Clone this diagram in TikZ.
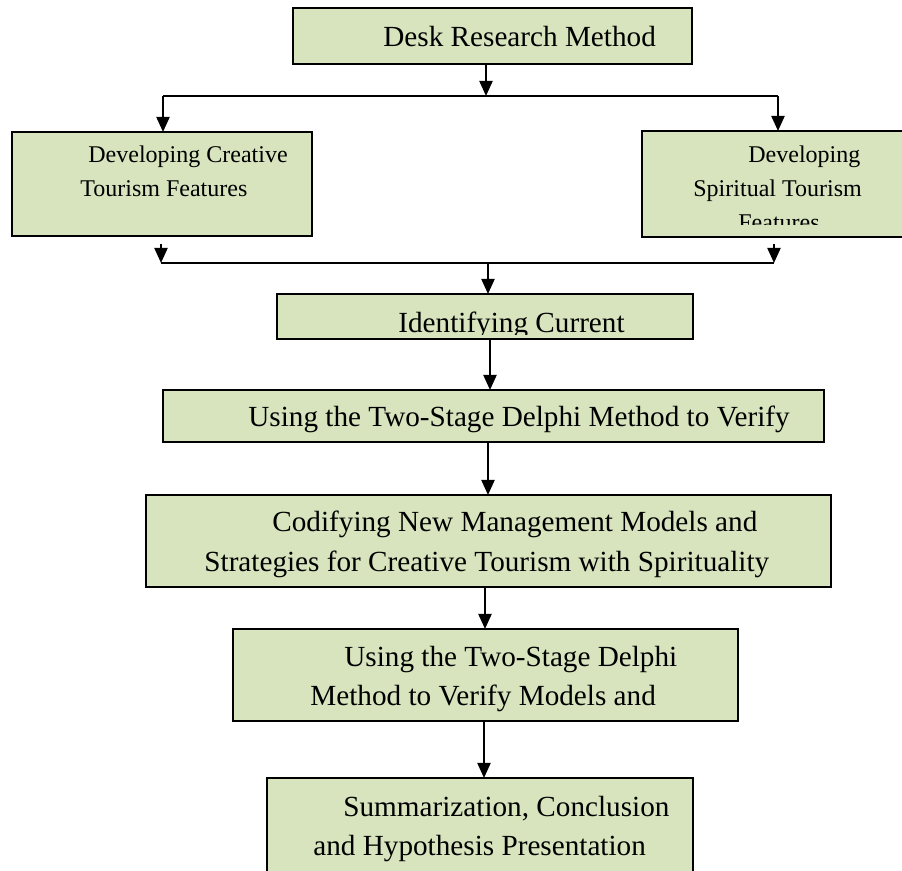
\documentclass[tikz,border=0pt]{standalone}
\usepackage{fontspec}
\setmainfont{Liberation Serif}
\usepackage{tikz}
\usetikzlibrary{arrows.meta}
\definecolor{boxfill}{HTML}{D7E4BD}
\newcommand{\bigtxt}{\fontsize{14.6}{18}\selectfont}
\newcommand{\smalltxt}{\fontsize{12}{15}\selectfont}

\begin{document}
\begin{tikzpicture}[
  x=0.5pt, y=-0.5pt,
  dep/.style={
    -{Triangle[width=6.5pt,length=7.5pt]},line width=1pt
  },
  bar/.style={
    line width=1pt
  },
  stepbox/.style 2 args={
    rectangle,
    draw=black,
    line width=1pt,
    fill=boxfill,
    inner sep=0pt,
    outer sep=0pt,
    minimum width=#1*0.5pt,
    minimum height=#2*0.5pt},
  lbl/.style={
    anchor=base west,
    inner sep=0pt,
    font=\bigtxt},
  slbl/.style={
    anchor=base west,
    inner sep=0pt,
    font=\smalltxt},
]

  \clip (0,0) rectangle (902,871);
  \useasboundingbox (0,0) rectangle (902,871);

  % Boxes
  \node[stepbox={399}{56}] (desk) at (492.5,36) {};
  \node[stepbox={300}{104}] (crt_feat) at (162,184) {};
  \node[stepbox={264}{106}] (spr_feat) at (774,184) {};
  \node[stepbox={416}{45}] (identify) at (485,316.5) {};
  \node[stepbox={661}{52}] (verify_one) at (493.5,416) {};
  \node[stepbox={685}{92}] (codify) at (488.5,541) {};
  \node[stepbox={505}{92}] (verify_two) at (485.5,675) {};
  \node[stepbox={426}{100}] (summary) at (480,828) {};

  % Labels
  \node[lbl] (desk_t) at (383,47) {Desk Research Method};

  \node[slbl] (crt_t1) at (88,163) {Developing Creative};
  \node[slbl] (crt_t2) at (80,197) {Tourism Features};

  \begin{scope}
    \clip (642,131) rectangle (902,225);
    \node[slbl] (spr_t1) at (748,163) {Developing};
    \node[slbl] (spr_t2) at (693,197) {Spiritual Tourism};
    \node[slbl] (spr_t3) at (738,231) {Features};
  \end{scope}

  \begin{scope}
    \clip (277,294) rectangle (693,334.5);
    \node[lbl] (identify_t) at (398,333) {Identifying Current};
  \end{scope}

  \node[lbl] (verify_one_t) at (248,427) 
      {Using the Two-Stage Delphi Method to Verify};

  \node[lbl] (codify_t1) at (272,532) {Codifying New Management Models and};
  \node[lbl] (codify_t2) at (204,572) 
      {Strategies for Creative Tourism with Spirituality};

  \node[lbl] (verify_two_t1) at (344,667) {Using the Two-Stage Delphi};
  \node[lbl] (verify_two_t2) at (310,706) {Method to Verify Models and};

  \node[lbl] (summary_t1) at (343,817) {Summarization, Conclusion};
  \node[lbl] (summary_t2) at (313,856) {and Hypothesis Presentation};

  % Split and join lines
  \coordinate (split_l) at (163,96);
  \coordinate (split_m) at (486,96);
  \coordinate (split_r) at (778,96);
  \coordinate (stub_l) at (161,244);
  \coordinate (stub_r) at (774,244);
  \coordinate (join_l) at (161,263);
  \coordinate (join_m) at (488,263);
  \coordinate (join_r) at (774,263);

  \draw[dep] (split_m |- desk.south) -- (split_m);
  \draw[bar] (split_l) -- (split_r);
  \draw[dep] (split_l) -- (split_l |- crt_feat.north);
  \draw[dep] (split_r) -- (split_r |- spr_feat.north);

  \draw[dep] (stub_l) -- (join_l);
  \draw[dep] (stub_r) -- (join_r);
  \draw[bar] (join_l) -- (join_r);
  \draw[dep] (join_m) -- (join_m |- identify.north);

  % Main chain
  \draw[dep] ([xshift=2.5pt]identify.south) 
      -- ([xshift=2.5pt]identify.south |- verify_one.north);
  \draw[dep] ([xshift=-2.75pt]verify_one.south) 
      -- ([xshift=-2.75pt]verify_one.south |- codify.north);
  \draw[dep] ([xshift=-1.75pt]codify.south) 
      -- ([xshift=-1.75pt]codify.south |- verify_two.north);
  \draw[dep] ([xshift=-0.75pt]verify_two.south) 
      -- ([xshift=-0.75pt]verify_two.south |- summary.north);

\end{tikzpicture}
\end{document}
